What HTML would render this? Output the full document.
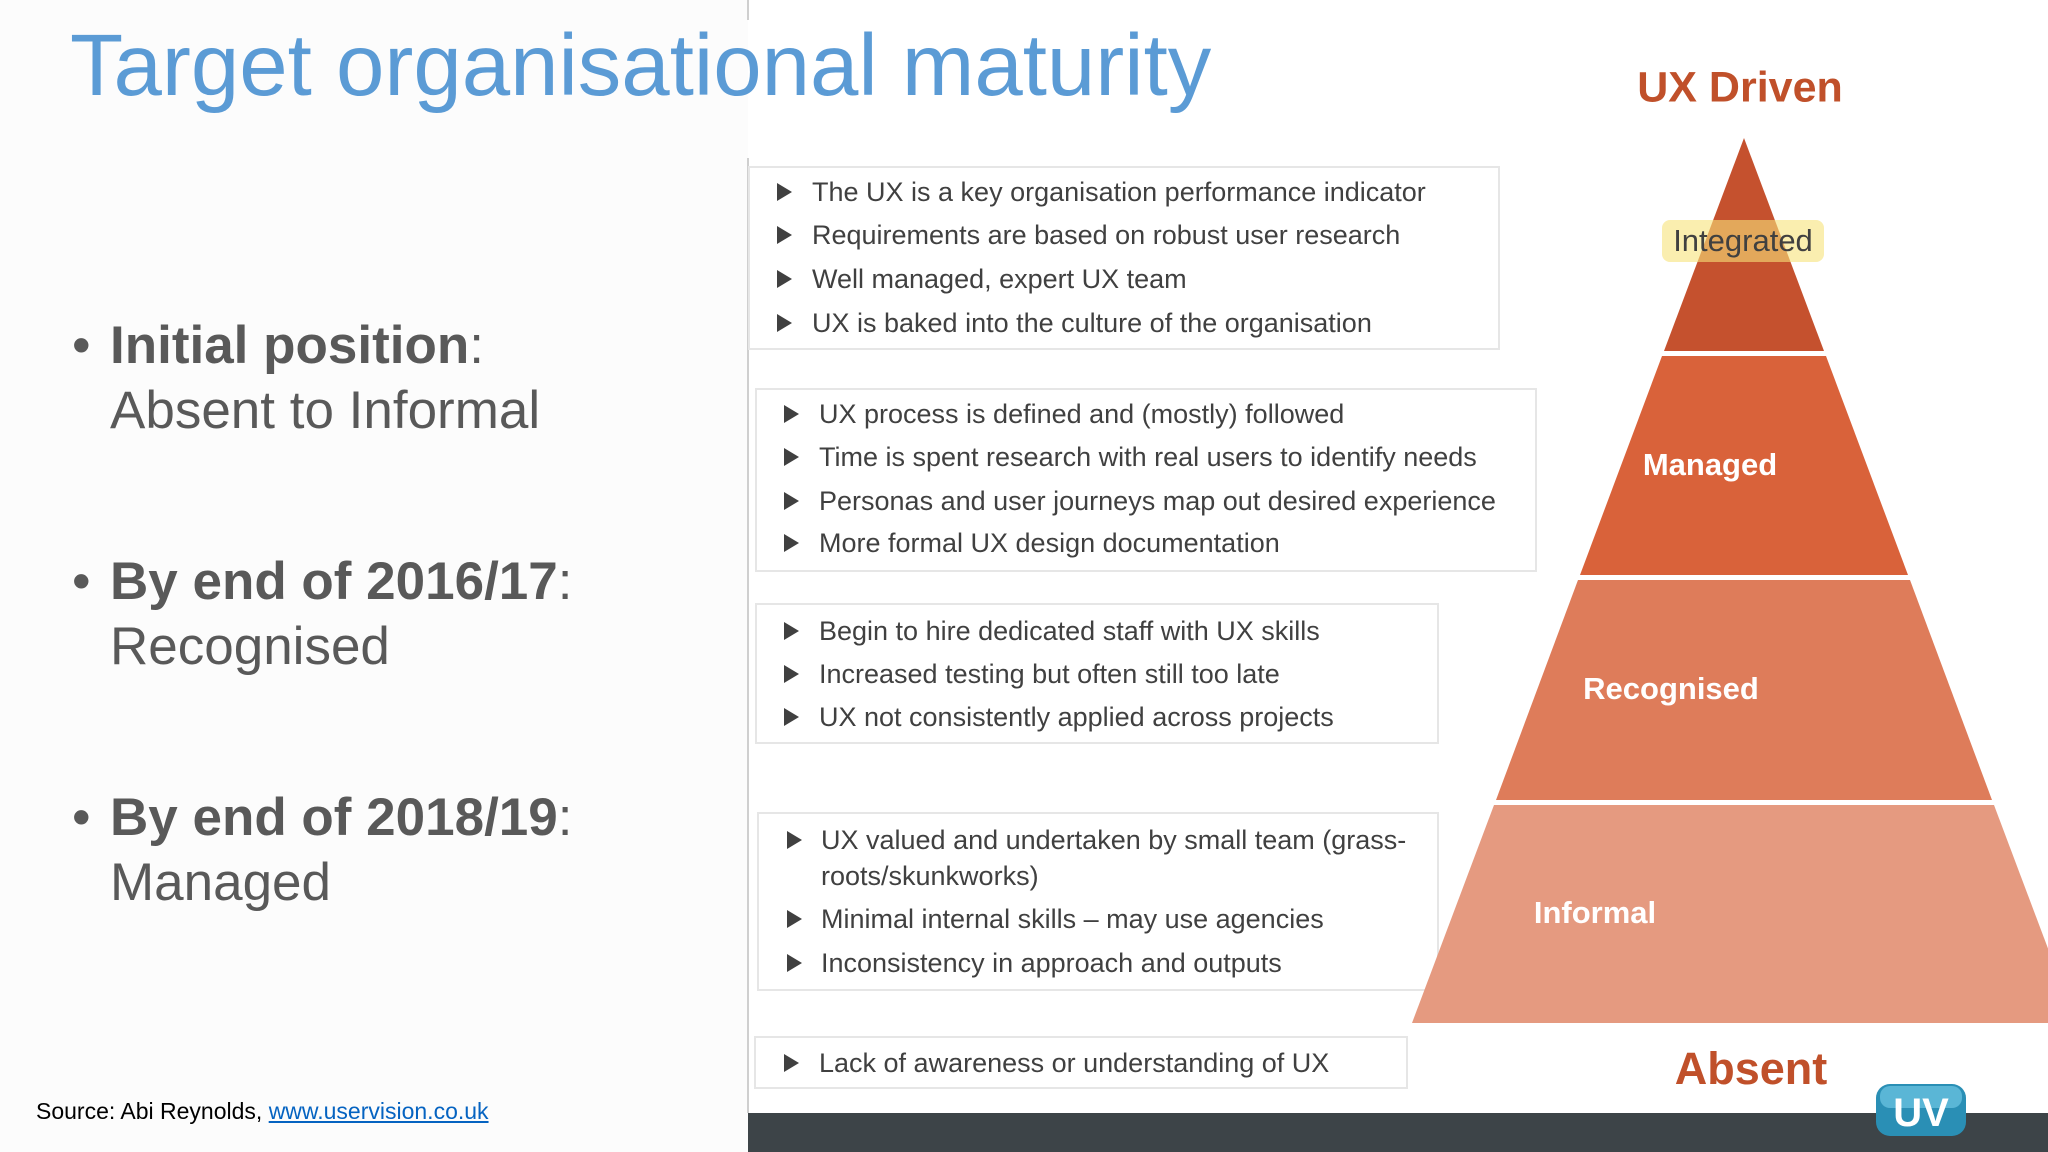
<!DOCTYPE html>
<html><head><meta charset="utf-8">
<style>
html,body{margin:0;padding:0}
body{width:2048px;height:1152px;position:relative;overflow:hidden;background:#fcfcfc;font-family:"Liberation Sans",sans-serif}
.abs{position:absolute}
.title{left:70px;top:16px;font-size:87px;color:#5b9bd5;white-space:nowrap;letter-spacing:0px}
.bl{left:72px;font-size:53px;color:#595959;white-space:nowrap}
.bl b{color:#595959}
.bl .dot{position:absolute;left:0;top:0;line-height:65px}
.bl .t{position:absolute;left:38px;line-height:65px}
.box{position:absolute;background:#fff;border:2px solid #e6e6e6;box-sizing:border-box}
.ln{position:absolute;font-size:27px;color:#404040;white-space:nowrap;line-height:30px}
.tri{position:absolute;width:0;height:0;border-top:9px solid transparent;border-bottom:9px solid transparent;border-left:15px solid #404040}
.plab{position:absolute;font-weight:bold;color:#fff;font-size:31px;transform:translate(-50%,-50%);white-space:nowrap}
</style></head>
<body>
<div class="abs" style="left:748px;top:0;width:1300px;height:1152px;background:#fff"></div>
<div class="abs" style="left:747px;top:0;width:2px;height:20px;background:#cfcfcf"></div>
<div class="abs" style="left:747px;top:158px;width:2px;height:955px;background:#cfcfcf"></div>
<div class="abs" style="left:748px;top:1113px;width:1300px;height:39px;background:#3d4448"></div>

<div class="abs title">Target organisational maturity</div>

<div class="abs bl" style="top:313px;height:120px;width:640px"><span class="dot">•</span><span class="t"><b>Initial position</b>:<br>Absent to Informal</span></div>
<div class="abs bl" style="top:549px;height:120px;width:640px"><span class="dot">•</span><span class="t"><b>By end of 2016/17</b>:<br>Recognised</span></div>
<div class="abs bl" style="top:785px;height:120px;width:640px"><span class="dot">•</span><span class="t"><b>By end of 2018/19</b>:<br>Managed</span></div>

<div class="abs" style="left:36px;top:1098px;font-size:23px;color:#000;white-space:nowrap">Source: Abi Reynolds, <a style="color:#0563c1;text-decoration:underline">www.uservision.co.uk</a></div>

<div class="box" style="left:748px;top:166px;width:752px;height:184px"></div>
<div class="box" style="left:755px;top:388px;width:782px;height:184px"></div>
<div class="box" style="left:755px;top:603px;width:684px;height:141px"></div>
<div class="box" style="left:757px;top:812px;width:682px;height:179px"></div>
<div class="box" style="left:754px;top:1036px;width:654px;height:53px"></div>

<div id="lines"></div>

<svg class="abs" style="left:0;top:0" width="2048" height="1152">
  <polygon points="1744,138 1664,351 1824,351" fill="#c5512e"/>
  <polygon points="1662,356 1826,356 1908,575 1580,575" fill="#d9623a"/>
  <polygon points="1578,580 1910,580 1992,800 1496,800" fill="#de7c5a"/>
  <polygon points="1494,805 1994,805 2076,1023 1412,1023" fill="#e59a80"/>
  <rect x="1662" y="220" width="162" height="42" rx="8" fill="#f6e27a" opacity="0.6"/>
  <g>
    <rect x="1876" y="1084" width="90" height="52" rx="14" fill="#2a8fb5"/>
    <rect x="1880" y="1086" width="82" height="22" rx="10" fill="#5ab6d6"/>
    <text x="1921" y="1126" text-anchor="middle" font-family="Liberation Sans" font-weight="bold" font-size="40" fill="#fff">UV</text>
  </g>
</svg>
<div class="abs" style="left:1743px;top:241px;transform:translate(-50%,-50%);font-size:31px;color:#404040;white-space:nowrap">Integrated</div>
<div class="plab" style="left:1710px;top:465px">Managed</div>
<div class="plab" style="left:1671px;top:689px">Recognised</div>
<div class="plab" style="left:1595px;top:913px">Informal</div>
<div class="plab" style="left:1740px;top:88px;color:#c0502a;font-size:43px">UX Driven</div>
<div class="plab" style="left:1751px;top:1069px;color:#c0502a;font-size:45px">Absent</div>

<script>
const items=[
 [778,812,192,"The UX is a key organisation performance indicator"],
 [778,812,235,"Requirements are based on robust user research"],
 [778,812,279,"Well managed, expert UX team"],
 [778,812,323,"UX is baked into the culture of the organisation"],
 [785,819,414,"UX process is defined and (mostly) followed"],
 [785,819,457,"Time is spent research with real users to identify needs"],
 [785,819,501,"Personas and user journeys map out desired experience"],
 [785,819,543,"More formal UX design documentation"],
 [785,819,631,"Begin to hire dedicated staff with UX skills"],
 [785,819,674,"Increased testing but often still too late"],
 [785,819,717,"UX not consistently applied across projects"],
 [788,821,840,"UX valued and undertaken by small team (grass-"],
 [null,821,876,"roots/skunkworks)"],
 [788,821,919,"Minimal internal skills \u2013 may use agencies"],
 [788,821,963,"Inconsistency in approach and outputs"],
 [785,819,1063,"Lack of awareness or understanding of UX"]
];
const host=document.getElementById('lines');
items.forEach(function(it){
 if(it[0]!==null){
  const t=document.createElement('div');t.className='tri';
  
  
  t.style.left=(it[0]-1)+'px';t.style.top=(it[2]-9)+'px';host.appendChild(t);
 }
 const d=document.createElement('div');d.className='ln';
 
 
 d.style.left=it[1]+'px';d.style.top=(it[2]-15)+'px';d.textContent=it[3];host.appendChild(d);
});
</script>
</body></html>
